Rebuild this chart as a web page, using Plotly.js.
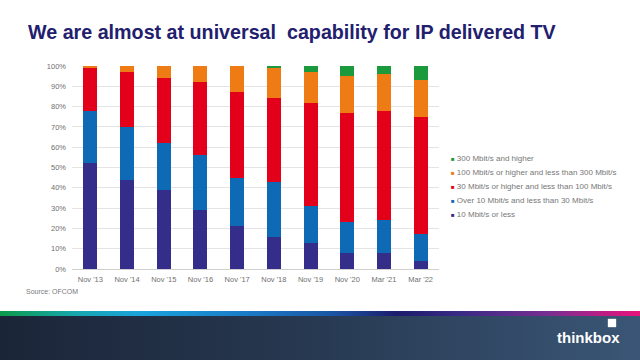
<!DOCTYPE html>
<html>
<head>
<meta charset="utf-8">
<script src="https://cdn.plot.ly/plotly-3.0.1.min.js"></script>
<style>
  html, body { margin: 0; padding: 0; background: #ffffff; }
  #wrap { position: relative; width: 640px; height: 360px; overflow: hidden; }
  #stripe { position: absolute; left: 0; top: 311px; width: 640px; height: 5px;
    background: linear-gradient(to right, #0c9a4a 0%, #17a7b0 12%, #1aa3dc 22%, #1a7cc8 38%, #1a55a4 52%, #1c1c6c 62%, #3a2a84 72%, #7a2e90 86%, #e8127c 100%); }
  #band { position: absolute; left: 0; top: 316px; width: 640px; height: 44px;
    background: linear-gradient(to right, #1b2538 0%, #26374f 45%, #3a5676 100%); }
  #chart { position: absolute; left: 0; top: 0; width: 640px; height: 360px; }
</style>
</head>
<body>
<div id="wrap">
  <div id="stripe"></div>
  <div id="band"></div>
  <div id="chart"></div>
</div>
<script>
// ---- data ----
const categories = ["Nov '13", "Nov '14", "Nov '15", "Nov '16", "Nov '17", "Nov '18", "Nov '19", "Nov '20", "Mar '21", "Mar '22"];
const seriesNames = [
  "10 Mbit/s or less",
  "Over 10 Mbit/s and less than 30 Mbit/s",
  "30 Mbit/s or higher and less than 100 Mbit/s",
  "100 Mbit/s or higher and less than 300 Mbit/s",
  "300 Mbit/s and higher"
];
const upTo10      = [52, 44, 39, 29, 21, 16, 13,  8,  8,  4];
const from10to30  = [26, 26, 23, 27, 24, 27, 18, 15, 16, 13];
const from30to100 = [21, 27, 32, 36, 42, 41, 51, 54, 54, 58];
const from100to300= [ 1,  3,  6,  8, 13, 15, 15, 18, 18, 18];
const over300     = [ 0,  0,  0,  0,  0,  1,  3,  5,  4,  7];
const seriesValues = [upTo10, from10to30, from30to100, from100to300, over300];
const yTicks = [0, 10, 20, 30, 40, 50, 60, 70, 80, 90, 100];
const yTickLabels = ["0%", "10%", "20%", "30%", "40%", "50%", "60%", "70%", "80%", "90%", "100%"];

// ---- styling ----
const colors = ["#352d8a", "#0f6ab6", "#e2001a", "#ef7b15", "#1a9a3c"];
const W = 640, H = 360;
const plotL = 72, plotR = 439, plotT = 66, plotB = 269;
const px2x = px => (px - plotL) / (plotR - plotL);
const py2y = py => (plotB - py) / (plotB - plotT);

const traces = seriesValues.map((vals, i) => ({
  type: 'bar',
  name: seriesNames[i],
  x: categories,
  y: vals,
  marker: { color: colors[i], line: { width: 0 } },
  showlegend: false,
  hoverinfo: 'skip'
}));

// manual legend (small square markers), top item = last series
const annotations = [];
const legendTop = 158, legendStep = 14;
for (let k = 0; k < seriesNames.length; k++) {
  const i = seriesNames.length - 1 - k;
  annotations.push({
    xref: 'paper', yref: 'paper',
    x: px2x(449), y: py2y(legendTop + k * legendStep),
    xanchor: 'left', yanchor: 'middle', showarrow: false,
    text: '<span style="color:' + colors[i] + ';font-size:6px">■</span> ' + seriesNames[i],
    font: { family: 'Liberation Sans, Arial, sans-serif', size: 8, color: '#777777' }
  });
}
annotations.push({
  xref: 'paper', yref: 'paper', x: px2x(24), y: py2y(291),
  xanchor: 'left', yanchor: 'middle', showarrow: false,
  text: 'Source: OFCOM',
  font: { family: 'Liberation Sans, Arial, sans-serif', size: 7, color: '#7a7a7a' }
});
annotations.push({
  xref: 'paper', yref: 'paper', x: px2x(555), y: py2y(337),
  xanchor: 'left', yanchor: 'middle', showarrow: false,
  text: '<b>thinkbox</b>',
  font: { family: 'Liberation Sans, Arial, sans-serif', size: 15, color: '#ffffff' }
});

const layout = {
  width: W, height: H,
  paper_bgcolor: 'rgba(0,0,0,0)',
  plot_bgcolor: 'rgba(0,0,0,0)',
  margin: { l: plotL, r: W - plotR, t: plotT, b: H - plotB, pad: 0 },
  barmode: 'stack',
  bargap: 0.62,
  showlegend: false,
  title: {
    text: '<b>We are almost at universal  capability for IP delivered TV</b>',
    x: 28 / W, xanchor: 'left', xref: 'container',
    y: 1 - 32 / H, yanchor: 'middle', yref: 'container',
    font: { family: 'Liberation Sans, Arial, sans-serif', size: 19.7, color: '#22206e' }
  },
  xaxis: {
    type: 'category',
    tickfont: { family: 'Liberation Sans, Arial, sans-serif', size: 7.5, color: '#6f6f6f' },
    ticks: '', showgrid: false, zeroline: false, showline: false,
    ticklabelstandoff: 4
  },
  yaxis: {
    range: [0, 100],
    tickvals: yTicks, ticktext: yTickLabels,
    tickfont: { family: 'Liberation Sans, Arial, sans-serif', size: 7.5, color: '#6f6f6f' },
    ticks: '', showgrid: true, gridcolor: '#e4e4e4', gridwidth: 1,
    zeroline: true, zerolinecolor: '#d0d0d0', showline: false,
    ticklabelstandoff: 5
  },
  annotations: annotations,
  shapes: [{
    type: 'rect', xref: 'paper', yref: 'paper',
    x0: px2x(608), x1: px2x(616), y0: py2y(327), y1: py2y(319),
    fillcolor: '#ffffff', line: { width: 1, color: 'rgba(255,255,255,0.35)' }
  }]
};

Plotly.newPlot('chart', traces, layout, { displayModeBar: false, staticPlot: true });
</script>
</body>
</html>
